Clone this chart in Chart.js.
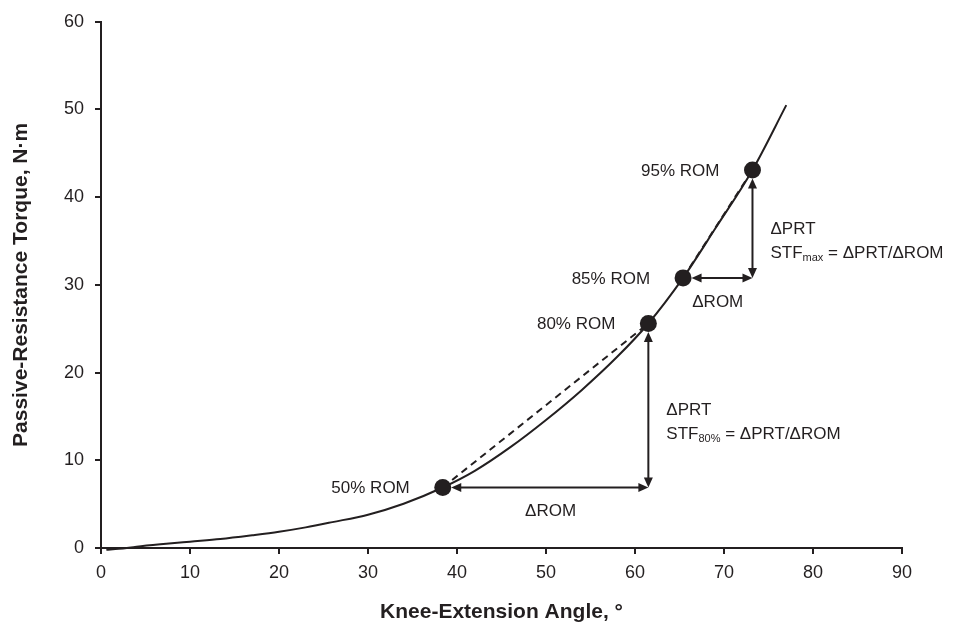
<!DOCTYPE html>
<html>
<head>
<meta charset="utf-8">
<script src="https://cdn.jsdelivr.net/npm/chart.js@4.4.1/dist/chart.umd.min.js"></script>
<style>
  html, body { margin: 0; padding: 0; background: #ffffff; }
  #wrap { width: 972px; height: 625px; }
</style>
</head>
<body>
<div id="wrap"><canvas id="c" width="972" height="625"></canvas></div>
<script>
// ---- data ----
const angle  = [0.6, 2, 4, 7, 10, 13.4, 17, 20, 23, 26, 30, 34, 38.4, 42, 46, 50, 54, 58, 61.5, 65.4, 69, 73.2, 77];
const torque = [-0.2, -0.1, 0.15, 0.45, 0.72, 1.02, 1.45, 1.85, 2.35, 2.95, 3.8, 5.05, 6.9, 8.8, 11.5, 14.6, 18.0, 21.8, 25.6, 30.8, 36.4, 43.1, 50.5];
const romLabels = ['50% ROM', '80% ROM', '85% ROM', '95% ROM'];
const romAngle  = [38.4, 61.5, 65.4, 73.2];
const romTorque = [6.9, 25.6, 30.8, 43.1];
const xTitle = 'Knee-Extension Angle, \u00B0';
const yTitle = 'Passive-Resistance Torque, N\u00B7m';
const stfSubs = ['80%', 'max'];

const INK = '#231f20';
const FONT = '"Liberation Sans", Arial, sans-serif';

const curve = angle.map((a, i) => ({ x: a, y: torque[i] }));
const chord1 = [0, 1].map(i => ({ x: romAngle[i], y: romTorque[i] }));
const chord2 = [2, 3].map(i => ({ x: romAngle[i], y: romTorque[i] }));
const romPts = romAngle.map((a, i) => ({ x: a, y: romTorque[i] }));

function arrowHead(ctx, x, y, ang) {
  const L = 10, W = 4.5;
  ctx.save();
  ctx.translate(x, y);
  ctx.rotate(ang);
  ctx.beginPath();
  ctx.moveTo(0, 0);
  ctx.lineTo(-L, -W);
  ctx.lineTo(-L, W);
  ctx.closePath();
  ctx.fill();
  ctx.restore();
}
function dblArrow(ctx, x1, y1, x2, y2) {
  const ang = Math.atan2(y2 - y1, x2 - x1);
  const L = 9;
  ctx.beginPath();
  ctx.moveTo(x1 + Math.cos(ang) * L, y1 + Math.sin(ang) * L);
  ctx.lineTo(x2 - Math.cos(ang) * L, y2 - Math.sin(ang) * L);
  ctx.stroke();
  arrowHead(ctx, x2, y2, ang);
  arrowHead(ctx, x1, y1, ang + Math.PI);
}

const annot = {
  id: 'annot',
  afterDatasetsDraw(chart) {
    const ctx = chart.ctx;
    const xs = chart.scales.x, ys = chart.scales.y;
    const px = romAngle.map(v => xs.getPixelForValue(v));
    const py = romTorque.map(v => ys.getPixelForValue(v));
    const r = 8.5;
    ctx.save();
    ctx.strokeStyle = INK;
    ctx.fillStyle = INK;
    ctx.lineWidth = 2;
    ctx.font = '17px ' + FONT;
    ctx.textAlign = 'right';
    ctx.textBaseline = 'middle';
    romLabels.forEach((t, i) => ctx.fillText(t, px[i] - 33, py[i] + 1));
    [[0, 1], [2, 3]].forEach(([a, b], k) => {
      dblArrow(ctx, px[a] + r, py[a], px[b], py[a]);
      dblArrow(ctx, px[b], py[a], px[b], py[b] + r);
      ctx.font = '17px ' + FONT;
      ctx.textAlign = 'center';
      ctx.textBaseline = 'middle';
      ctx.fillText('\u0394ROM', (px[a] + px[b]) / 2 + (k === 0 ? 5 : 0), py[a] + 24);
      const mid = (py[a] + py[b]) / 2;
      const tx = px[b] + 18;
      ctx.textAlign = 'left';
      ctx.textBaseline = 'alphabetic';
      ctx.fillText('\u0394PRT', tx, mid + 10);
      const by = mid + 34;
      ctx.fillText('STF', tx, by);
      let w = ctx.measureText('STF').width;
      ctx.font = '11px ' + FONT;
      ctx.fillText(stfSubs[k], tx + w, by + 3);
      const w2 = ctx.measureText(stfSubs[k]).width;
      ctx.font = '17px ' + FONT;
      ctx.fillText(' = \u0394PRT/\u0394ROM', tx + w + w2, by);
    });
    ctx.restore();
  }
};

new Chart(document.getElementById('c'), {
  type: 'scatter',
  data: {
    datasets: [
      { data: romPts, showLine: false, pointRadius: 8.5, pointHoverRadius: 8.5,
        pointBackgroundColor: INK, pointBorderColor: INK, pointBorderWidth: 0, order: 0 },
      { data: curve, showLine: true, borderColor: INK, borderWidth: 2, pointRadius: 0,
        cubicInterpolationMode: 'monotone', fill: false, clip: false, order: 2 },
      { data: chord1, showLine: true, borderColor: INK, borderWidth: 2, borderDash: [7, 5],
        pointRadius: 0, fill: false, order: 1 },
      { data: chord2, showLine: true, borderColor: INK, borderWidth: 2, borderDash: [7, 5],
        pointRadius: 0, fill: false, order: 3 }
    ]
  },
  options: {
    responsive: false,
    animation: false,
    devicePixelRatio: 1,
    layout: { padding: { top: 21, right: 70, left: 0, bottom: 0 } },
    plugins: { legend: { display: false }, tooltip: { enabled: false } },
    scales: {
      x: {
        type: 'linear', min: 0, max: 90,
        afterFit(s) { s.height = 77; },
        ticks: { stepSize: 10, color: INK, font: { family: FONT, size: 18 }, padding: 8 },
        grid: { drawOnChartArea: false, drawTicks: true, tickLength: 6, color: INK, lineWidth: 2 },
        border: { display: true, color: INK, width: 2 },
        title: { display: true, text: xTitle, color: INK,
                 font: { family: FONT, size: 21, weight: 'bold' }, padding: { top: 0, bottom: 0 } }
      },
      y: {
        type: 'linear', min: 0, max: 60,
        afterFit(s) { s.width = 101; },
        ticks: { stepSize: 10, color: INK, font: { family: FONT, size: 18 }, padding: 11 },
        grid: { drawOnChartArea: false, drawTicks: true, tickLength: 6, color: INK, lineWidth: 2 },
        border: { display: true, color: INK, width: 2 },
        title: { display: true, text: yTitle, color: INK,
                 font: { family: FONT, size: 21, weight: 'bold' }, padding: { top: 9, bottom: 0 } }
      }
    }
  },
  plugins: [annot]
});
</script>
</body>
</html>
